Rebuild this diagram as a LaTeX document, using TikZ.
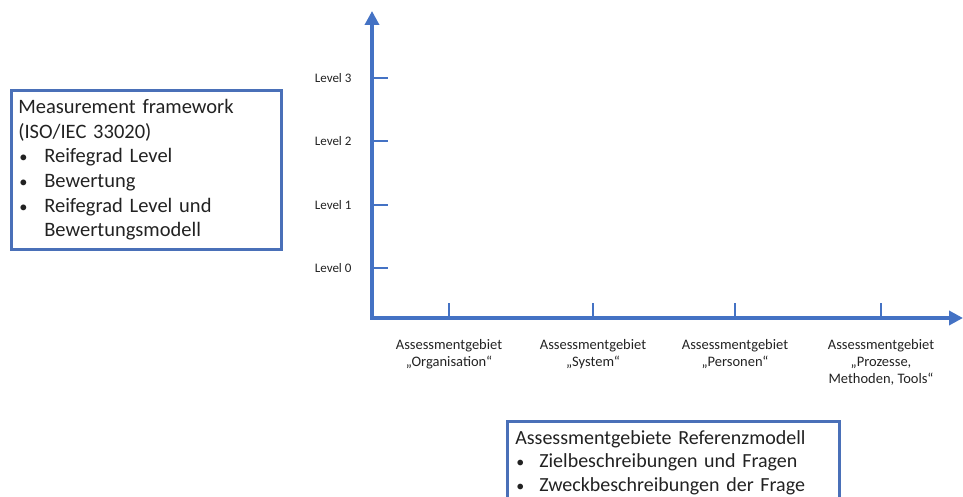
\documentclass[tikz,border=0pt]{standalone}
\usepackage{fontspec}
\setmainfont{Carlito}
\usetikzlibrary{arrows.meta,positioning}
\definecolor{axisblue}{HTML}{4472C4}
\definecolor{boxblue}{HTML}{4A70B8}
\definecolor{txt}{HTML}{222222}

\begin{document}
\begin{tikzpicture}[x=1pt,y=-1pt,
    infobox/.style={draw=boxblue, line width=2.6pt, anchor=north west, align=left,
                    inner xsep=8pt, text=txt},
    axislab/.style={text=txt, align=center}]
  \clip (0,0) rectangle (963,497);
  \useasboundingbox (0,0) rectangle (963,497);
  \newcommand{\blt}[1]{\makebox[#1][l]{\hspace*{1pt}\scalebox{0.8}{\textbullet}}}

  % axes
  \coordinate (origin) at (372,318);
  \coordinate (ytip) at (372,11);
  \coordinate (xtip) at (963,318);
  \draw[axisblue, line width=3.7pt,
        {Triangle[width=14pt,length=14pt]}-{Triangle[width=14pt,length=14pt]}]
        (ytip) -- (origin) -- (xtip);

  \foreach \i/\y in {0/268,1/205,2/141,3/78}
    { \draw[axisblue, line width=2.3pt] (372,\y) -- (388,\y);
      \node[axislab, anchor=east, font=\fontsize{13}{16}\selectfont] (lvl\i) at (355,\y) {Level \i}; }

  \foreach \x/\t [count=\k] in {449/{Assessmentgebiet\\„Organisation“},
                               593/{Assessmentgebiet\\„System“},
                               735/{Assessmentgebiet\\„Personen“},
                               881/{Assessmentgebiet\\„Prozesse,\\Methoden,\ Tools“}}
    { \draw[axisblue, line width=2.3pt] (\x,303) -- (\x,318);
      \node[axislab, anchor=north, font=\fontsize{14.5}{17}\selectfont] (area\k) at (\x,336) {\t}; }

  % boxes
  \node[infobox, text width=256pt, inner xsep=7pt, minimum height=159pt,
        font=\fontsize{20.5}{24.6}\selectfont]
    (framework) at (10,89)
    {Measurement framework\\(ISO/IEC 33020)\\
     \blt{26pt}Reifegrad Level\\
     \blt{26pt}Bewertung\\
     \blt{26pt}Reifegrad Level und\\
     \hspace*{26pt}Bewertungsmodell};
  \node[infobox, text width=316pt, inner ysep=9pt, font=\fontsize{20}{23.5}\selectfont]
    (refmodel) at (506,420)
    {Assessmentgebiete Referenzmodell\\
     \blt{24pt}Zielbeschreibungen und Fragen\\
     \blt{24pt}Zweckbeschreibungen der Frage};
\end{tikzpicture}
\end{document}
